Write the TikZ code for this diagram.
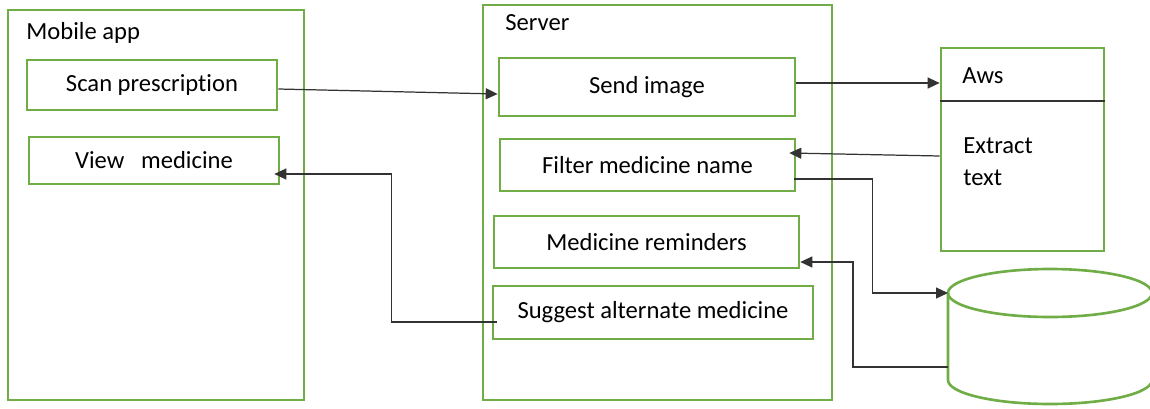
\documentclass[tikz,border=0pt]{standalone}
\usepackage{fontspec}
\setmainfont{Carlito}[Ligatures=NoCommon]
\usetikzlibrary{arrows.meta,positioning}
\definecolor{officegreen}{HTML}{70AD47}
\definecolor{linegray}{HTML}{333333}

\begin{document}
\begin{tikzpicture}[x=1cm,y=1cm,>={Triangle[length=.24cm,width=.22cm]},
			every node/.style={font=\fontsize{14}{18}\selectfont},
			frame/.style={draw=officegreen,line width=1.5pt},
			task/.style={frame,minimum width=5.9cm,minimum height=1.04cm,inner sep=0pt,align=center},
			label/.style={inner sep=0pt,anchor=west,align=left},
			link/.style={->,draw=linegray,line width=.7pt}]
			\useasboundingbox (0,0) rectangle (23,-8.16);
			% outer blocks
			\node[frame,minimum width=5.92cm,minimum height=7.8cm] (app) at (3.12,-4.10) {};
			\node[frame,minimum width=6.98cm,minimum height=7.9cm] (server) at (13.15,-4.05) {};
			\node[frame,minimum width=3.26cm,minimum height=4.06cm] (aws) at (20.45,-2.99) {};
			\node[label] (applbl) at (.52,-.66) {Mobile app};
			\node[label] (serverlbl) at (10.1,-.46) {Server};
			\node[label] (awslbl) at (19.24,-1.52) {Aws};
			\node[label] (extract) at (19.26,-3.24) {Extract\\text};
			\draw[linegray,line width=.6pt] (aws.west |- 0,-2.02) -- (aws.east |- 0,-2.02);
			% tasks
			\node[task,minimum width=5cm,minimum height=1cm] (scan) at (3.04,-1.70) {Scan prescription};
			\node[task,minimum width=5cm,minimum height=.94cm] (view) at (3.08,-3.21) {View \ \ medicine};
			\node[task,minimum width=5.92cm,minimum height=1.16cm] (send) at (12.94,-1.74) {Send image};
			\node[task] (filter) at (12.95,-3.30) {Filter medicine name};
			\node[task,minimum width=6.1cm] (remind) at (12.93,-4.84) {Medicine reminders};
			\node[task,minimum width=6.4cm,minimum height=1.06cm] (suggest) at (13.06,-6.25) {Suggest alternate medicine};
			% database
			\draw[frame] (18.96,-5.86) -- (18.96,-7.6) arc[start angle=180,end angle=360,x radius=2.04,y radius=.48] -- (23.04,-5.86);
			\draw[frame] (21,-5.86) ellipse[x radius=2.04,y radius=.48];
			\coordinate (dbin) at (18.96,-5.86);
			\coordinate (dbout) at (18.96,-7.34);
			% connectors
			\draw[link] ([yshift=-.08cm]scan.east) -- ([yshift=-.14cm]send.west);
			\draw[link] ([yshift=.08cm]send.east) -- ([yshift=.08cm]send.east -| aws.west);
			\draw[link] ([yshift=-.13cm]aws.west) -- ([xshift=-.14cm,yshift=.24cm]filter.east);
			\draw[link] ([xshift=-.04cm,yshift=-.28cm]filter.east) -- ++(1.56,0) |- (dbin);
			\draw[link] (dbout) -- ++(-1.9,0) |- ([yshift=-.4cm]remind.east);
			\draw[link] ([xshift=.1cm,yshift=-.19cm]suggest.west) -- ++(-2.1,0) |- ([xshift=-.12cm,yshift=-.27cm]view.east);
		\end{tikzpicture}
\end{document}
